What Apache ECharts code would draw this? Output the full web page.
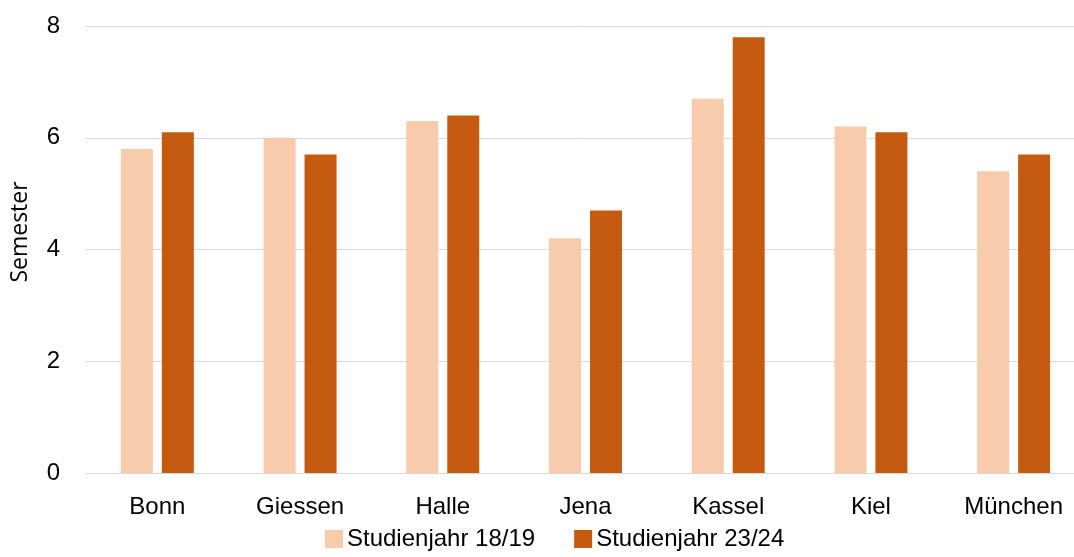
<!DOCTYPE html>
<html>
<head>
<meta charset="utf-8">
<script src="https://cdn.jsdelivr.net/npm/echarts@6/dist/echarts.min.js"></script>
<style>
  html, body { margin: 0; padding: 0; background: #fff; }
  #chart { width: 1074px; height: 557px; }
</style>
</head>
<body>
<div id="chart"></div>
<script>
// Universities and average study duration (semesters) per cohort
const categories = ['Bonn', 'Giessen', 'Halle', 'Jena', 'Kassel', 'Kiel', 'München'];
const year1819 = [5.8, 6.0, 6.3, 4.2, 6.7, 6.2, 5.4];
const year2324 = [6.1, 5.7, 6.4, 4.7, 7.8, 6.1, 5.7];
const seriesNames = ['Studienjahr 18/19', 'Studienjahr 23/24'];
const axisTitle = 'Semester';

const FONT = '"Liberation Sans", Arial, sans-serif';

const chart = echarts.init(document.getElementById('chart'), null, { renderer: 'canvas' });
chart.setOption({
  animation: false,
  textStyle: { fontFamily: FONT },
  grid: { left: 86, top: 26, width: 999, bottom: 84, outerBoundsMode: 'none', containLabel: false },
  legend: {
    top: 527,
    left: 325,
    padding: 0,
    itemWidth: 18,
    itemHeight: 18,
    itemGap: 39,
    icon: 'rect',
    textStyle: { fontFamily: FONT, fontSize: 24, color: '#000', padding: [0, 0, 0, -1] },
    data: seriesNames
  },
  graphic: [{
    type: 'text',
    x: 20,
    y: 232,
    rotation: Math.PI / 2,
    style: {
      text: axisTitle,
      fill: '#000',
      font: '23px "Open Sans", sans-serif',
      align: 'center',
      verticalAlign: 'middle'
    }
  }],
  xAxis: {
    type: 'category',
    data: categories,
    axisLine: { lineStyle: { color: '#d9d9d9', width: 1 } },
    axisTick: { show: false },
    axisLabel: { fontFamily: FONT, fontSize: 24, color: '#000', margin: 22 }
  },
  yAxis: {
    type: 'value',
    min: 0,
    max: 8,
    interval: 2,
    axisLine: { show: false },
    axisTick: { show: false },
    axisLabel: { fontFamily: FONT, fontSize: 24, color: '#000', margin: 26 },
    splitLine: { lineStyle: { color: '#d9d9d9', width: 1 } }
  },
  series: [
    {
      name: seriesNames[0],
      type: 'bar',
      data: year1819,
      barWidth: 32,
      barGap: '28%',
      itemStyle: { color: '#F8CBAD' }
    },
    {
      name: seriesNames[1],
      type: 'bar',
      data: year2324,
      barWidth: 32,
      itemStyle: { color: '#C55A11' }
    }
  ]
});
</script>
</body>
</html>
